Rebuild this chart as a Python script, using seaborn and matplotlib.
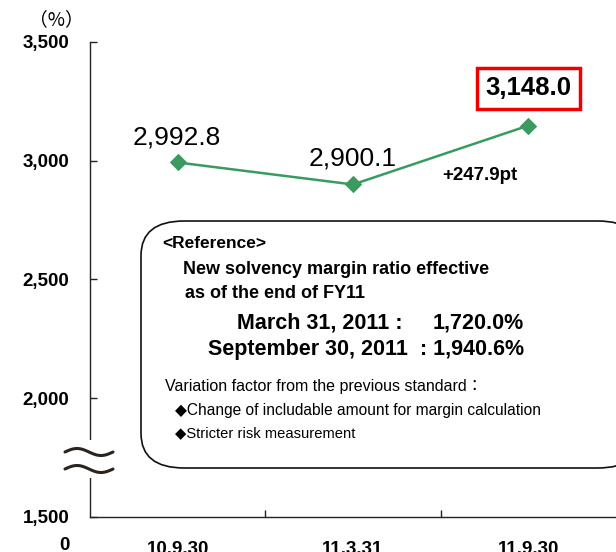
import numpy as np
import pandas as pd
import matplotlib
matplotlib.use("Agg")
import matplotlib.pyplot as plt
import seaborn as sns
from matplotlib.patches import FancyBboxPatch, Rectangle

categories = ["10.9.30", "11.3.31", "11.9.30"]
values = [2992.8, 2900.1, 3148.0]
value_labels = ["2,992.8", "2,900.1", "3,148.0"]
change_label = "+247.9pt"
y_ticks = [1500, 2000, 2500, 3000, 3500]
y_tick_labels = ["1,500", "2,000", "2,500", "3,000", "3,500"]

sns.set_theme(style="white")
plt.rcParams['font.family'] = ['Liberation Sans', 'DejaVu Sans']
plt.rcParams['text.color'] = 'black'
plt.rcParams['xtick.color'] = 'black'
plt.rcParams['ytick.color'] = 'black'

green = "#3a9a60"
fig = plt.figure(figsize=(6.16, 5.52), dpi=100)
ax = fig.add_axes([90/616, 35/552, 1 - 90/616, (517-42)/552])

df = pd.DataFrame({"x": np.arange(len(categories)), "v": values})
sns.lineplot(data=df, x="x", y="v", ax=ax, color=green, marker="D",
             markersize=8, markeredgecolor=green, linewidth=1.8)

ax.set_xlim(-0.5, 2.5)
ax.set_ylim(1500, 3500)
ax.set_xlabel("")
ax.set_ylabel("")
for s in ["top", "right"]:
    ax.spines[s].set_visible(False)
for s in ["left", "bottom"]:
    ax.spines[s].set_color("#222222")
    ax.spines[s].set_linewidth(1.0)

ax.set_yticks(y_ticks)
ax.set_yticklabels(y_tick_labels, fontsize=13.5, fontweight="bold")
ax.tick_params(axis="y", direction="in", length=5, width=1, color="#222222", pad=15, left=True)
ax.set_xticks(range(len(categories)))
ax.set_xticklabels(categories, fontsize=13.5, fontweight="bold")
ax.tick_params(axis="x", which="major", length=0, pad=17)
ax.set_xticks([0.5, 1.5], minor=True)
ax.tick_params(axis="x", which="minor", direction="in", length=5, width=1, color="#222222", bottom=True)

# value labels
ax.annotate(value_labels[0], (0, values[0]), xytext=(-1, 18), textcoords="offset points",
            ha="center", va="center", fontsize=19)
ax.annotate(value_labels[1], (1, values[1]), xytext=(0, 19), textcoords="offset points",
            ha="center", va="center", fontsize=19)
ax.annotate(value_labels[2], (2, values[2]), xytext=(0, 27), textcoords="offset points",
            ha="center", va="center", fontsize=18.5, fontweight="bold",
            bbox=dict(boxstyle="square,pad=0.33", facecolor="white", edgecolor="#ee0000", linewidth=2.5))
ax.annotate(change_label, (2, values[2]), xytext=(-35, -36), textcoords="offset points",
            ha="center", va="center", fontsize=13.5, fontweight="bold")

# (%) and 0 labels
fig.text(56/616, 1 - 20/552, "（%）", ha="center", va="center", fontsize=13.5,
         family=['Noto Sans CJK JP', 'DejaVu Sans'])
fig.text(70/616, 1 - 545/552, "0", ha="right", va="center", fontsize=13.5, fontweight="bold")

# axis break symbol
bx = np.linspace(65, 113, 60)
fig.patches.append(Rectangle((64/616, 1 - 478/552), 50/616, 38/552, transform=fig.transFigure,
                             facecolor="white", edgecolor="none", zorder=5))
for yc in (452, 469):
    by = yc - 3.5 * np.sin((bx - 65) / 48 * 2 * np.pi)
    fig.lines.append(plt.Line2D(bx / 616, 1 - by / 552, transform=fig.transFigure,
                                color="#2a2420", linewidth=2.2, zorder=6))

# rounded reference box
fig.patches.append(FancyBboxPatch((141/616, 1 - 468/552), 500/616, (468-221)/552,
                                  boxstyle="round,pad=0,rounding_size=0.07",
                                  transform=fig.transFigure, facecolor="white",
                                  edgecolor="#111111", linewidth=1.2, zorder=3,
                                  mutation_aspect=552/616))

def ft(x, y, s, **kw):
    fig.text(x/616, 1 - y/552, s, zorder=10, va="center", **kw)

ft(162, 243, "<Reference>", fontsize=12.5, fontweight="bold")
ft(183, 270, "New solvency margin ratio effective", fontsize=13, fontweight="bold")
ft(185, 293, "as of the end of FY11", fontsize=13, fontweight="bold")
ft(237, 323, "March 31, 2011 :", fontsize=15.5, fontweight="bold")
ft(524, 323, "1,720.0%", fontsize=15.5, fontweight="bold", ha="right")
ft(524, 349, "September 30, 2011  : 1,940.6%", fontsize=15.5, fontweight="bold", ha="right")
ft(165, 386, "Variation factor from the previous standard：", fontsize=11.5,
   family=['Liberation Sans', 'Noto Sans CJK JP'])
ft(175, 410, "◆Change of includable amount for margin calculation", fontsize=11.2,
   family=['Liberation Sans', 'DejaVu Sans'])
ft(175, 433, "◆Stricter risk measurement", fontsize=10.6,
   family=['Liberation Sans', 'DejaVu Sans'])

fig.savefig("out.png", dpi=100)
